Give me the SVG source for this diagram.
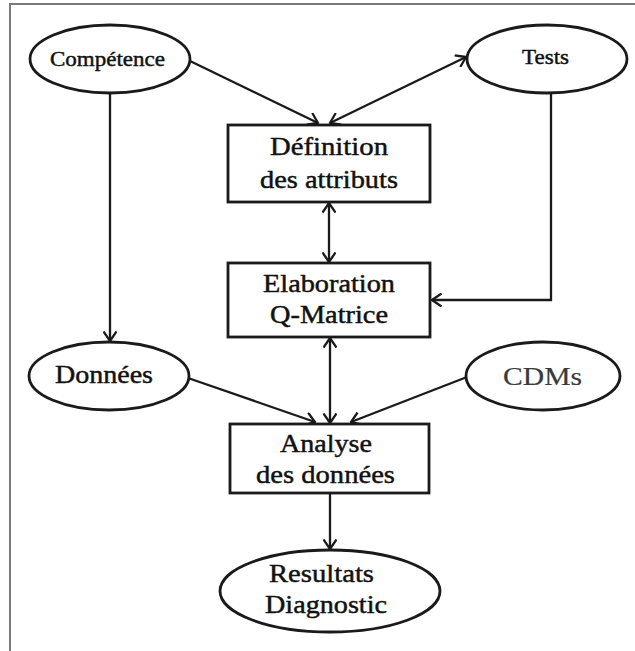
<svg xmlns="http://www.w3.org/2000/svg" width="635" height="651" viewBox="0 0 635 651">
<style>
.frame{stroke:#7a7a7a;stroke-width:2;fill:none}
.node{fill:#fff;stroke:#1a1a1a;stroke-width:2.8}
.t{font-family:"Liberation Serif","Times New Roman",serif;fill:#111;stroke:#111;stroke-width:0.45;text-anchor:middle}
.s{font-size:22px}
.b{font-size:25.5px}
.edge{stroke:#1a1a1a;stroke-width:2.3;fill:none}
</style>
<defs>
<marker id="ah" viewBox="0 0 12 14" markerWidth="12" markerHeight="14" refX="10.5" refY="7" orient="auto-start-reverse" markerUnits="userSpaceOnUse">
<path d="M1,0.5 L10.5,7 L1,13.5" fill="none" stroke="#1a1a1a" stroke-width="2.3"/>
</marker>
</defs>
<rect width="635" height="651" fill="#fff"/>
<path class="frame" d="M10,651 L10,4 L635,4"/>
<g id="connectors">
<line class="edge" x1="190" y1="61" x2="318" y2="123" marker-end="url(#ah)"/>
<line class="edge" x1="330" y1="123" x2="466" y2="57" marker-start="url(#ah)" marker-end="url(#ah)"/>
<line class="edge" x1="110" y1="93" x2="110" y2="341" marker-end="url(#ah)"/>
<line class="edge" x1="329" y1="203" x2="329" y2="262" marker-start="url(#ah)" marker-end="url(#ah)"/>
<path class="edge" d="M551,93 L551,300 L432,300" marker-end="url(#ah)"/>
<line class="edge" x1="330" y1="338" x2="330" y2="423" marker-start="url(#ah)" marker-end="url(#ah)"/>
<line class="edge" x1="188" y1="378" x2="315" y2="422" marker-end="url(#ah)"/>
<line class="edge" x1="467" y1="377" x2="351" y2="422" marker-end="url(#ah)"/>
<line class="edge" x1="330" y1="494" x2="330" y2="549" marker-end="url(#ah)"/>
</g>
<g id="competence">
<ellipse class="node" cx="110" cy="59" rx="80" ry="34"/>
<text class="t s" x="107.5" y="66" textLength="115" lengthAdjust="spacingAndGlyphs">Compétence</text>
</g>
<g id="tests">
<ellipse class="node" cx="547" cy="59" rx="80" ry="34"/>
<text class="t s" x="545.5" y="64" textLength="47" lengthAdjust="spacingAndGlyphs">Tests</text>
</g>
<g id="definition">
<rect class="node" x="228" y="125" width="202" height="77"/>
<text class="t b" x="329" y="155" textLength="118" lengthAdjust="spacingAndGlyphs">Définition</text>
<text class="t b" x="329" y="188" textLength="138" lengthAdjust="spacingAndGlyphs">des attributs</text>
</g>
<g id="elaboration">
<rect class="node" x="228" y="263" width="202" height="74"/>
<text class="t b" x="329" y="292" textLength="132" lengthAdjust="spacingAndGlyphs">Elaboration</text>
<text class="t b" x="329" y="323" textLength="118" lengthAdjust="spacingAndGlyphs">Q-Matrice</text>
</g>
<g id="donnees">
<ellipse class="node" cx="109" cy="376" rx="80" ry="34"/>
<text class="t b" x="104" y="383" textLength="98" lengthAdjust="spacingAndGlyphs">Données</text>
</g>
<g id="cdms">
<ellipse class="node" cx="543" cy="376" rx="77" ry="34"/>
<text class="t b" x="542.5" y="385" textLength="79" lengthAdjust="spacingAndGlyphs" style="fill:#3a3a3a;stroke:#3a3a3a;stroke-width:0.2">CDMs</text>
</g>
<g id="analyse">
<rect class="node" x="230" y="424" width="199" height="69"/>
<text class="t b" x="326" y="452" textLength="92" lengthAdjust="spacingAndGlyphs">Analyse</text>
<text class="t b" x="325.5" y="483" textLength="139" lengthAdjust="spacingAndGlyphs">des données</text>
</g>
<g id="resultats">
<ellipse class="node" cx="330" cy="591" rx="110" ry="41"/>
<text class="t b" x="321.5" y="582" textLength="105" lengthAdjust="spacingAndGlyphs">Resultats</text>
<text class="t b" x="326" y="613" textLength="122" lengthAdjust="spacingAndGlyphs">Diagnostic</text>
</g>
</svg>
